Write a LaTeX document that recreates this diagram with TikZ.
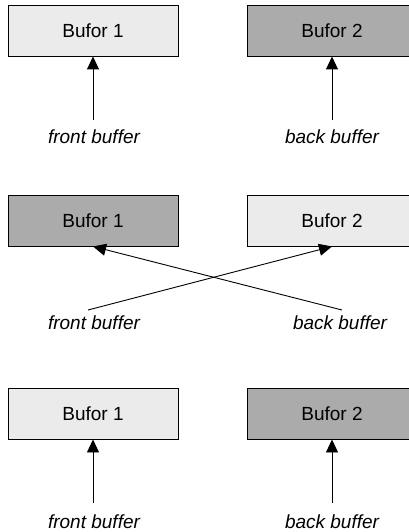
\documentclass[tikz,border=0pt]{standalone}
\usepackage{fontspec}
\setmainfont{Liberation Sans}
\usetikzlibrary{arrows.meta}
\definecolor{buflight}{HTML}{EBEBEB}
\definecolor{bufdark}{HTML}{ABABAB}
\begin{document}
\begin{tikzpicture}[x=1pt,y=-1pt,
  bufbox/.style={draw=black,line width=0.9pt,minimum width=170pt,minimum height=51pt,
    inner sep=0pt,font=\fontsize{19}{22}\selectfont},
  light/.style={bufbox,fill=buflight},
  dark/.style={bufbox,fill=bufdark},
  lbl/.style={font=\fontsize{19}{22}\selectfont\itshape,inner sep=0pt},
  ptr/.style={line width=0.9pt,-{Triangle[length=13pt,width=12pt]}}]
\useasboundingbox (0,0) rectangle (409,532);
\clip (0,0) rectangle (409,532);
% first state
\node[light] (a1) at (93,30.5) {Bufor 1};
\node[dark]  (a2) at (332,30.5) {Bufor 2};
\node[lbl] (af) at (94,137) {front buffer};
\node[lbl] (ab) at (332,137) {back buffer};
\coordinate (af0) at (93,120);
\coordinate (ab0) at (332,120);
\draw[ptr] (af0) -- (a1.south);
\draw[ptr] (ab0) -- (a2.south);
% swap
\node[dark]  (b1) at (93,220.5) {Bufor 1};
\node[light] (b2) at (332,220.5) {Bufor 2};
\node[lbl] (bf) at (94,323) {front buffer};
\node[lbl] (bb) at (340,323) {back buffer};
\coordinate (bf0) at (88,310);
\coordinate (bb0) at (342,310);
\draw[ptr] (bf0) -- (b2.south);
\draw[ptr] (bb0) -- (b1.south);
% state after swap
\node[light] (c1) at (93,413.5) {Bufor 1};
\node[dark]  (c2) at (332,413.5) {Bufor 2};
\node[lbl] (cf) at (94,522) {front buffer};
\node[lbl] (cb) at (332,522) {back buffer};
\coordinate (cf0) at (93,503);
\coordinate (cb0) at (332,503);
\draw[ptr] (cf0) -- (c1.south);
\draw[ptr] (cb0) -- (c2.south);
\end{tikzpicture}
\end{document}
